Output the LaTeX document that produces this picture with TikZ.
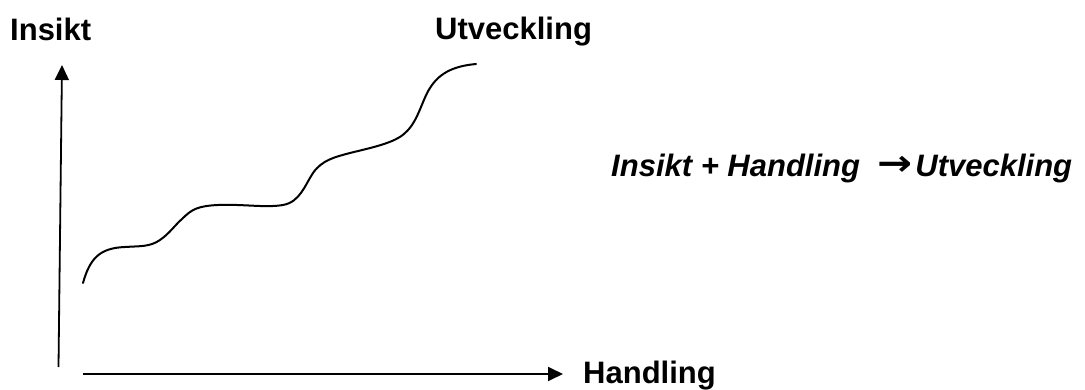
\documentclass[tikz,border=0pt]{standalone}
\usepackage{fontspec}
\setmainfont{Liberation Sans}
\newfontfamily\arrowfont{DejaVu Sans}
\usepackage{graphicx}
\usepackage{tikz}
\usetikzlibrary{arrows.meta,positioning}

\begin{document}
\begin{tikzpicture}[x=1pt, y=-1pt, >={Triangle[length=15pt,width=14pt]},
  axis/.style={->, line width=1.8pt},
  lbl/.style={anchor=base west, inner sep=0pt, font=\fontsize{31}{36}\selectfont\bfseries},
  eq/.style={anchor=base west, inner sep=0pt, font=\fontsize{31}{36}\selectfont\bfseries\itshape}]
\useasboundingbox (0,0) rectangle (1085,390);
% axes
\coordinate (ybot) at (58.5,367);
\coordinate (ytop) at (62,65);
\coordinate (xleft) at (83,374);
\coordinate (xright) at (563,374);
\draw[axis] (ybot) -- (ytop);
\draw[axis] (xleft) -- (xright);
% labels
\node[lbl] (insikt) at (10,41) {Insikt};
\node[lbl] (utv) at (435,40) {Utveckling};
\node[lbl] (handl) at (583,383) {Handling};
\node[eq] (formel) at (611,177) {Insikt + Handling\ \ \raisebox{1pt}{\scalebox{1.35}[1.15]{\arrowfont\bfseries\upshape →}}\hspace{3pt}Utveckling};
% curve
\draw[line width=2pt, line cap=round]
  (83,283) .. controls (90,258) and (100,248) .. (125,247)
  .. controls (140,246) and (150,247) .. (160,240)
  .. controls (170,233) and (175,225) .. (182,219)
  .. controls (192,209) and (198,206) .. (218,205)
  .. controls (245,204) and (265,208) .. (283,205)
  .. controls (300,202) and (305,185) .. (313,173)
  .. controls (322,160) and (335,157) .. (350,153)
  .. controls (370,148) and (395,143) .. (405,133)
  .. controls (418,122) and (422,100) .. (430,88)
  .. controls (440,72) and (455,66) .. (476,64);
\end{tikzpicture}
\end{document}
